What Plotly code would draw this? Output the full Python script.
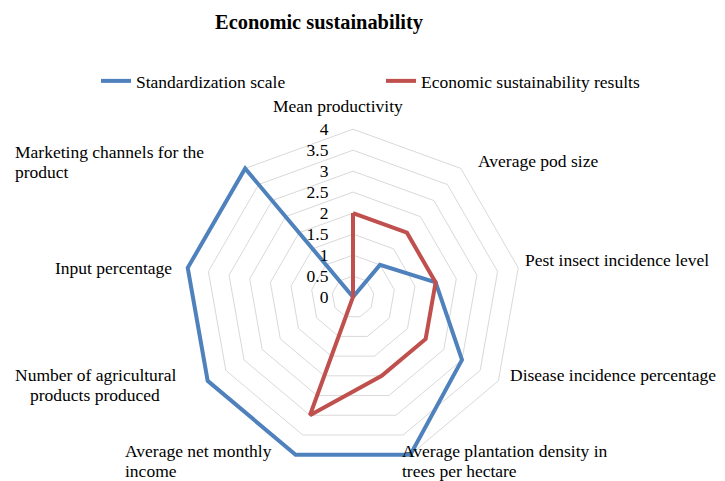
import plotly.graph_objects as go

categories = [
    'Mean productivity',
    'Average pod size',
    'Pest insect incidence level',
    'Disease incidence percentage',
    'Average plantation density in<br>trees per hectare',
    'Average net monthly<br>income',
    'Number of agricultural<br>products produced',
    'Input percentage',
    'Marketing channels for the<br>product',
]
standardization = [0, 1, 2, 3, 4, 4, 4, 4, 4]
results = [2, 2, 2, 2, 2, 3, 0, 0, 0]
radial_ticks = [0, 0.5, 1, 1.5, 2, 2.5, 3, 3.5, 4]

W, H = 725, 481
FONT = 'Liberation Serif'
LINE_GAP = 20  # px between wrapped label lines


def px(x):
    return x / W


def py(y):
    return 1 - y / H


# Excel-style placement of each category label: x, first-line y, anchor
label_pos = [
    (338, 106, 'center'),
    (476, 161, 'left'),
    (523, 260, 'left'),
    (508, 375, 'left'),
    (400, 451, 'left'),
    (123, 451, 'left'),
    (95, 375, 'center'),
    (174, 268, 'right'),
    (13, 152, 'left'),
]

fig = go.Figure()

# close the polygons by repeating the first point
fig.add_trace(go.Scatterpolar(
    r=standardization + standardization[:1],
    theta=categories + categories[:1],
    mode='lines',
    name='Standardization scale',
    line=dict(color='#4F81BD', width=4),
    cliponaxis=False,
))
fig.add_trace(go.Scatterpolar(
    r=results + results[:1],
    theta=categories + categories[:1],
    mode='lines',
    name='Economic sustainability results',
    line=dict(color='#C0504D', width=4),
    cliponaxis=False,
))

for cat, (x, y, anchor) in zip(categories, label_pos):
    for i, line in enumerate(cat.split('<br>')):
        fig.add_annotation(
            text=line, x=px(x), y=py(y + i * LINE_GAP),
            xref='paper', yref='paper',
            xanchor=anchor, yanchor='middle', showarrow=False,
            font=dict(family=FONT, size=17.5, color='#000000'),
        )

fig.update_layout(
    width=W,
    height=H,
    margin=dict(l=0, r=0, t=0, b=0),
    paper_bgcolor='white',
    plot_bgcolor='white',
    font=dict(family=FONT, size=17.5, color='#000000'),
    title=dict(
        text='<b>Economic sustainability</b>',
        x=px(319), y=py(22), xanchor='center', yanchor='middle',
        font=dict(family=FONT, size=20.4, color='#000000'),
    ),
    legend=dict(
        orientation='h',
        x=px(96), y=py(81), xanchor='left', yanchor='middle',
        font=dict(family=FONT, size=17.5),
        entrywidth=240, entrywidthmode='pixels',
    ),
    polar=dict(
        # range runs a little past 4 so the outer line is not clipped
        domain=dict(x=[px(175), px(531)], y=[py(469), py(125)]),
        gridshape='linear',
        bgcolor='white',
        radialaxis=dict(
            range=[0, 4.1],
            tickvals=radial_ticks,
            ticktext=[f'{v:g}' for v in radial_ticks],
            angle=90,
            tickangle=90,
            side='counterclockwise',
            showline=False,
            ticks='outside',
            ticklen=18,
            tickcolor='rgba(0,0,0,0)',
            gridcolor='#D9D9D9',
            gridwidth=1,
            tickfont=dict(family=FONT, size=17.5),
        ),
        angularaxis=dict(
            direction='clockwise',
            rotation=90,
            showline=False,
            showgrid=False,
            showticklabels=False,
            ticks='',
        ),
    ),
)

# drop the page's default body margin so the figure starts at the corner
fig.write_html(
    'out.html',
    config={'displayModeBar': False},
    post_script="document.body.style.margin='0px';",
)
